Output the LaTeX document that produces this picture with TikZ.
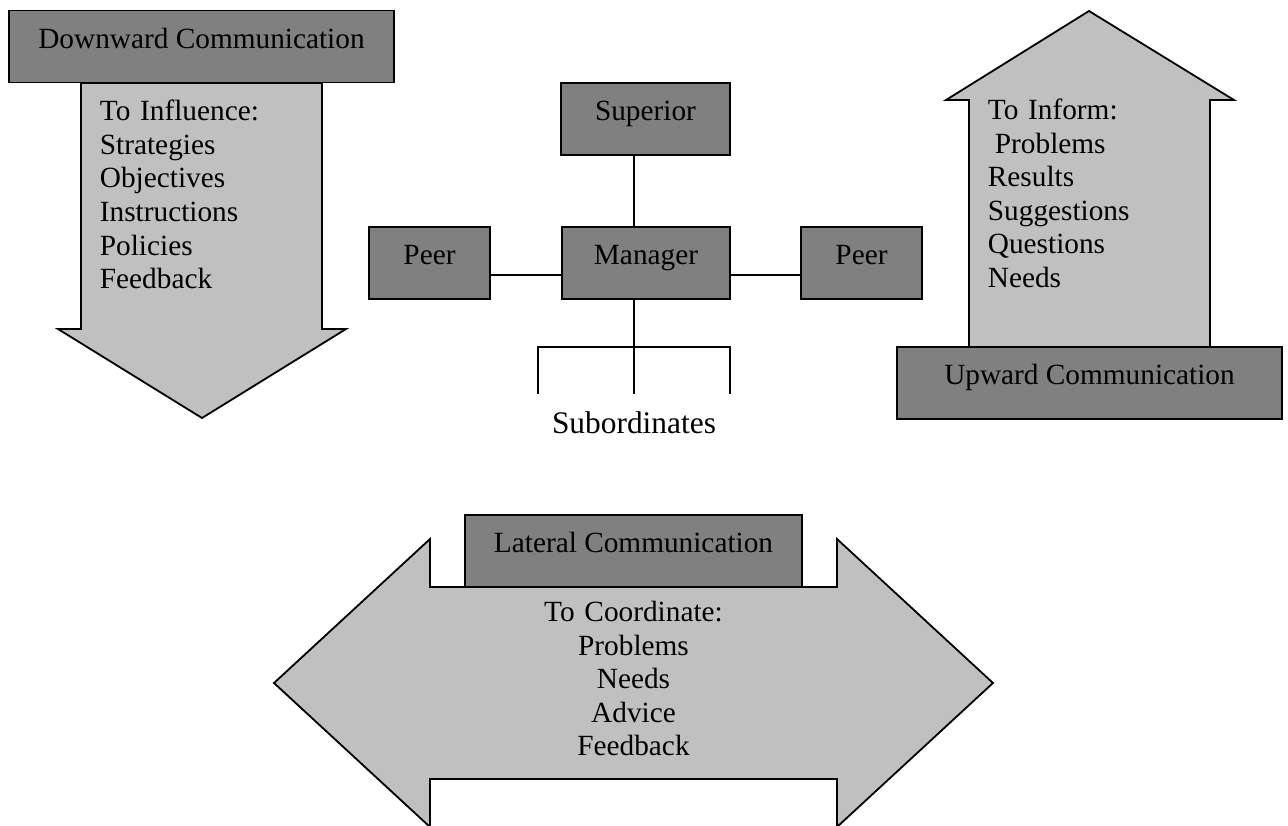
\documentclass[tikz,border=0pt]{standalone}
\usepackage{fontspec}
\setmainfont{Liberation Serif}
\definecolor{boxgray}{HTML}{808080}
\definecolor{arrowgray}{HTML}{C0C0C0}
\newcommand\diagfont{\fontsize{29.3}{33.6}\selectfont}
\newcommand\subfont{\fontsize{31.4}{36}\selectfont}
\begin{document}
\begin{tikzpicture}[x=1pt,y=-1pt,line width=1.8pt,
  gbox/.style={fill=boxgray,draw=black,inner sep=0pt,text height=37.5pt,text depth=34.5pt,minimum width=#1,font=\diagfont},
  afill/.style={fill=arrowgray,draw=black,line join=miter},
  conn/.style={draw=black},
  ltext/.style={inner sep=0pt,font=\diagfont,text width=260pt,align=left},
  ctext/.style={inner sep=0pt,font=\diagfont,text width=320pt,align=center}]
\useasboundingbox (0,0) rectangle (1288,825);
\clip (0,0) rectangle (1288,825);

% big arrows
\draw[afill] (81,83) -- (322,83) -- (322,329) -- (346,329) -- (202,418) -- (58,329) -- (81,329) -- cycle;
\draw[afill] (969,347) -- (969,100) -- (946,100) -- (1089,11) -- (1234,100) -- (1210,100) -- (1210,347) -- cycle;
\draw[afill] (274,683) -- (430,539) -- (430,587) -- (837,587) -- (837,539) -- (993,683) -- (837,827) -- (837,779) -- (430,779) -- (430,827) -- cycle;

% header boxes
\node[gbox=385pt] (down) at (201.5,46.5) {Downward Communication};
\node[gbox=385pt] (up) at (1089.5,383) {Upward Communication};
\node[gbox=337pt] (lat) at (633.5,551) {Lateral Communication};

% lists
\node[ltext,anchor=base west] (dlist) at (99,120.7) {To Influence:\\Strategies\\Objectives\\Instructions\\Policies\\Feedback};
\node[ltext,anchor=base west] (ulist) at (987,119.5) {To Inform:\\\hspace*{7pt}Problems\\Results\\Suggestions\\Questions\\Needs};
\node[ctext,anchor=base] (llist) at (633.5,621.5) {To Coordinate:\\Problems\\Needs\\Advice\\Feedback};

% org chart
\node[gbox=169pt] (sup) at (645.5,119) {Superior};
\node[gbox=168pt] (man) at (646,263) {Manager};
\node[gbox=121pt] (pl) at (429.5,263) {Peer};
\node[gbox=121pt] (pr) at (861.5,263) {Peer};

\coordinate (vx) at (634,0);
\coordinate (hy) at (0,275);
\coordinate (sb) at (634,347);
\coordinate (sl) at (538,347);
\coordinate (sr) at (730,347);
\coordinate (slb) at (538,394);
\coordinate (smb) at (634,394);
\coordinate (srb) at (730,394);

\draw[conn] (sup.south -| vx) -- (man.north -| vx);
\draw[conn] (pl.east |- hy) -- (man.west |- hy);
\draw[conn] (man.east |- hy) -- (pr.west |- hy);
\draw[conn] (man.south -| vx) -- (sb);
\draw[conn] (slb) -- (sl) -- (sr) -- (srb);
\draw[conn] (sb) -- (smb);

\node[font=\subfont,anchor=base,inner sep=0pt] (subs) at (634,433) {Subordinates};
\end{tikzpicture}
\end{document}
